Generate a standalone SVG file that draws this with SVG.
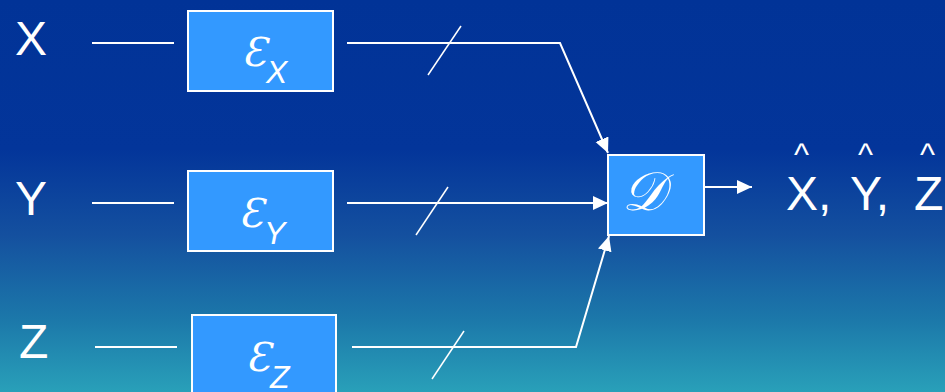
<svg xmlns="http://www.w3.org/2000/svg" width="945" height="392" viewBox="0 0 945 392">
<defs>
<linearGradient id="bg" x1="0" y1="0" x2="0" y2="1">
<stop offset="0" stop-color="#013397"/>
<stop offset="0.38" stop-color="#03359a"/>
<stop offset="0.6" stop-color="#14509f"/>
<stop offset="0.82" stop-color="#1c79aa"/>
<stop offset="1" stop-color="#29a0b9"/>
</linearGradient>
<marker id="ah" markerUnits="userSpaceOnUse" markerWidth="16" markerHeight="16" refX="15" refY="7" orient="auto">
<path d="M0,0 L15,7 L0,14 Z" fill="#fff"/>
</marker>
<style>
.lbl{font-family:"Liberation Sans",Arial,sans-serif;font-size:48px;fill:#fff}
.hat{font-family:"Liberation Sans",Arial,sans-serif;font-size:32px;fill:#fff}
.box{fill:#3399ff;stroke:#fff;stroke-width:2}
.scr{font-family:"DejaVu Serif",serif;font-style:italic;font-size:40px;fill:#fff}
.scd{font-family:"DejaVu Serif",serif;font-style:italic;font-size:54px;fill:#fff}
.sub{font-family:"Liberation Sans",Arial,sans-serif;font-style:italic;font-size:32px;fill:#fff}
.ln{stroke:#fff;stroke-width:2;fill:none}
.tk{stroke:#fff;stroke-width:1.5;fill:none}
</style>
</defs>
<rect width="945" height="392" fill="url(#bg)"/>
<g id="label-x"><text class="lbl" x="15" y="55">X</text></g>
<g id="label-y"><text class="lbl" x="15" y="215">Y</text></g>
<g id="label-z"><text class="lbl" x="19" y="358">Z</text></g>
<g id="enc-x"><rect class="box" x="188" y="11" width="145" height="80"/><text class="scr" x="242" y="66">Ɛ</text><text class="sub" x="266" y="83">X</text></g>
<g id="enc-y"><rect class="box" x="188" y="171" width="145" height="80"/><text class="scr" x="239" y="227">Ɛ</text><text class="sub" x="264" y="244">Y</text></g>
<g id="enc-z"><rect class="box" x="192" y="315" width="144" height="90"/><text class="scr" x="246" y="371">Ɛ</text><text class="sub" x="270" y="388">Z</text></g>
<g id="dec"><rect class="box" x="608" y="155" width="96" height="80"/><text class="scd" x="622" y="210">𝒟</text></g>
<g id="output"><text class="lbl" x="786" y="210">X,</text><text class="lbl" x="850" y="210">Y,</text><text class="lbl" x="914" y="210">Z</text><text class="hat" x="794" y="165">^</text><text class="hat" x="858" y="165">^</text><text class="hat" x="920" y="165">^</text></g>
<g id="connectors">
<line class="ln" x1="92" y1="43" x2="174" y2="43"/>
<line class="ln" x1="92" y1="203" x2="174" y2="203"/>
<line class="ln" x1="95" y1="347" x2="177" y2="347"/>
<polyline class="ln" points="347,43 560,43 608,153" marker-end="url(#ah)"/>
<line class="ln" x1="347" y1="203" x2="608" y2="203" marker-end="url(#ah)"/>
<polyline class="ln" points="352,347 576,347 609,236" marker-end="url(#ah)"/>
<line class="ln" x1="705" y1="187" x2="752" y2="187" marker-end="url(#ah)"/>
<line class="tk" x1="428" y1="75" x2="461" y2="26"/>
<line class="tk" x1="416" y1="235" x2="448" y2="187"/>
<line class="tk" x1="432" y1="379" x2="464" y2="331"/>
</g>
</svg>
